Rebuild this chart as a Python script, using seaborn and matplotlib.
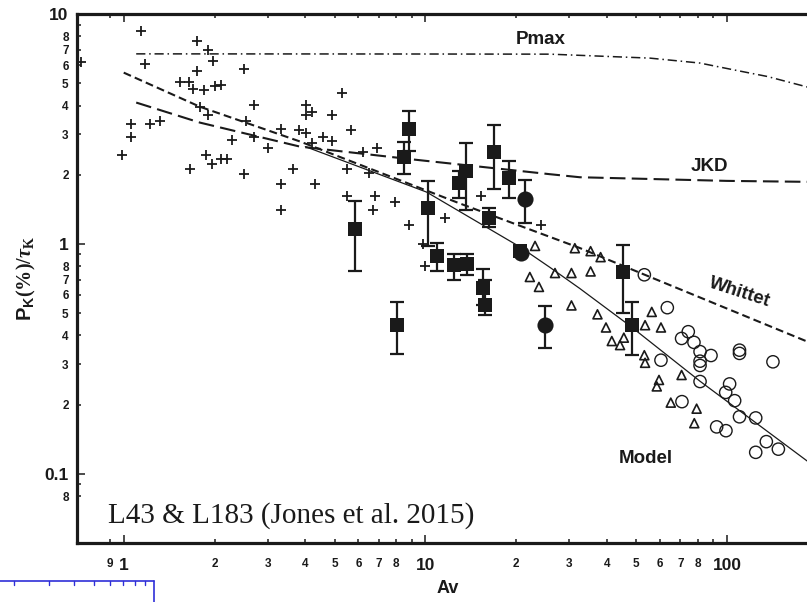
import matplotlib.pyplot as plt
import numpy as np
import seaborn as sns
import pandas as pd
from matplotlib.lines import Line2D
from matplotlib.ticker import FixedLocator, FixedFormatter

sns.set_theme(style="ticks")
plt.rcParams['font.family'] = ['Liberation Sans', 'DejaVu Sans']
plt.rcParams['font.weight'] = 'bold'
plt.rcParams['text.color'] = 'k'
plt.rcParams['axes.labelcolor'] = 'k'
plt.rcParams['xtick.color'] = 'k'
plt.rcParams['ytick.color'] = 'k'
plt.rcParams['mathtext.fontset'] = 'custom'
plt.rcParams['mathtext.bf'] = 'Liberation Sans:bold'
plt.rcParams['mathtext.rm'] = 'Liberation Serif'
plt.rcParams['mathtext.it'] = 'Liberation Serif:italic'

# optical / NIR polarisation points (plus signs)
plus_av = [1.145, 0.72, 1.18, 1.06, 1.06, 0.99, 1.22, 1.32, 1.75, 1.91, 1.98, 1.75, 1.54, 1.64,
           1.70, 1.85, 2.00, 2.10, 1.79, 1.91, 1.66, 1.87, 1.96, 2.10, 2.20, 2.28, 2.51, 2.70,
           2.55, 2.70, 2.51, 3.00, 3.32, 3.32, 3.32, 3.64, 3.81, 5.30, 4.01, 4.01, 4.21, 4.90,
           4.01, 5.69, 4.58, 4.90, 4.21, 6.91, 6.22, 5.49, 6.49, 4.30, 5.49, 6.81, 6.71, 7.92,
           11.6, 8.80, 15.3, 24.1, 9.8, 10.0]
plus_p = [8.47, 6.16, 6.06, 3.33, 2.93, 2.43, 3.33, 3.42, 7.66, 6.99, 6.26, 5.65, 5.04, 5.04,
          4.72, 4.66, 4.85, 4.93, 3.95, 3.63, 2.11, 2.43, 2.23, 2.33, 2.33, 2.83, 5.76, 4.03,
          3.42, 2.93, 2.02, 2.61, 3.15, 1.82, 1.41, 2.11, 3.12, 4.54, 4.03, 3.63, 3.74, 3.63,
          3.04, 3.12, 2.93, 2.80, 2.74, 2.61, 2.52, 2.11, 2.03, 1.82, 1.61, 1.61, 1.41, 1.52,
          1.30, 1.21, 1.61, 1.21, 1.0, 0.805]

# filled squares with error bars
sq_av = [8.84, 8.49, 5.85, 10.2, 10.9, 12.4, 13.7, 15.5, 15.8, 13.6, 12.9, 16.9, 18.9, 16.2,
         20.6, 45.1, 48.3, 8.03]
sq_p = [3.17, 2.40, 1.16, 1.43, 0.89, 0.81, 0.82, 0.64, 0.54, 2.08, 1.84, 2.52, 1.94, 1.30,
        0.93, 0.754, 0.446, 0.446]
sq_lo = [2.53, 2.01, 0.766, 0.983, 0.766, 0.70, 0.73, 0.545, 0.493, 1.41, 1.58, 1.73, 1.59,
         1.18, 0.89, 0.503, 0.328, 0.332]
sq_hi = [3.80, 2.77, 1.53, 1.87, 1.01, 0.905, 0.905, 0.774, 0.70, 2.76, 2.08, 3.29, 2.29,
         1.44, 0.97, 0.99, 0.56, 0.56]

# filled circles with error bars
fc_av = [21.4, 25.0, 20.8]
fc_p = [1.57, 0.446, 0.914]
fc_lo = [1.23, 0.354, 0.914]
fc_hi = [1.89, 0.537, 0.914]

# open triangles
tri_av = [23.1, 31.3, 22.2, 23.8, 26.9, 30.5, 30.5, 35.3, 38.1, 35.3, 37.2, 39.7, 45.5, 41.5,
          44.2, 56.3, 53.5, 60.4, 53.2, 53.5, 70.7, 59.5, 58.5, 65.1, 79.3, 77.9]
tri_p = [0.98, 0.958, 0.718, 0.65, 0.747, 0.747, 0.54, 0.93, 0.876, 0.759, 0.494, 0.433, 0.391,
         0.378, 0.363, 0.506, 0.443, 0.433, 0.328, 0.304, 0.269, 0.256, 0.24, 0.204, 0.192, 0.166]

# open circles
oc_av = [53.2, 63.4, 74.4, 70.7, 77.7, 81.4, 81.4, 81.4, 88.5, 110, 110, 142, 60.4, 81.4, 102,
         99, 106, 70.9, 110, 124.5, 92.4, 99.2, 135, 124.5, 148]
oc_p = [0.734, 0.528, 0.415, 0.388, 0.373, 0.34, 0.309, 0.296, 0.327, 0.345, 0.334, 0.307,
        0.312, 0.252, 0.246, 0.226, 0.208, 0.206, 0.177, 0.175, 0.16, 0.154, 0.138, 0.124, 0.128]

# model curves
pmax_av = [1.10, 10, 25.9, 55.5, 81.3, 105, 136, 184, 200]
pmax_p = [6.71, 6.70, 6.69, 6.43, 6.12, 5.72, 5.35, 4.82, 4.65]
whittet_av = [1.0, 1.79, 3.84, 13.0, 32.5, 52.6, 200]
whittet_p = [5.56, 3.95, 2.79, 1.50, 0.96, 0.74, 0.36]
jkd_av = [1.10, 1.79, 3.84, 9.1, 25.9, 32.5, 100, 200]
jkd_p = [4.12, 3.37, 2.65, 2.33, 2.01, 1.95, 1.88, 1.86]
model_av = [4.0, 10.1, 20.6, 25.9, 32.5, 47.7, 81.3, 200]
model_p = [2.65, 1.68, 0.97, 0.79, 0.64, 0.44, 0.253, 0.105]

# ticks
x_major = [1, 10, 100]
x_major_labels = ['1', '10', '100']
x_minor = [0.9, 2, 3, 4, 5, 6, 7, 8, 9, 20, 30, 40, 50, 60, 70, 80, 90]
x_minor_labels = ['9', '2', '3', '4', '5', '6', '7', '8', '', '2', '3', '4', '5', '6', '7', '8', '']
y_major = [0.1, 1, 10]
y_major_labels = ['0.1', '1', '10']
y_minor = [0.08, 0.09, 0.2, 0.3, 0.4, 0.5, 0.6, 0.7, 0.8, 0.9, 2, 3, 4, 5, 6, 7, 8, 9]
y_minor_labels = ['8', '', '2', '3', '4', '5', '6', '7', '8', '', '2', '3', '4', '5', '6', '7', '8', '']

fig = plt.figure(figsize=(8.07, 6.02), dpi=100)
ax = fig.add_axes([0.0954, 0.098, 0.918, 0.8787])
ax.set_xscale('log')
ax.set_yscale('log')

# curves
sns.lineplot(x=pmax_av, y=pmax_p, ax=ax, color='k', lw=1.1, linestyle=(0, (6, 2.5, 1, 2.5)),
             sort=False, estimator=None)
sns.lineplot(x=whittet_av, y=whittet_p, ax=ax, color='k', lw=1.5, linestyle=(0, (3.8, 2)),
             sort=False, estimator=None)
sns.lineplot(x=jkd_av, y=jkd_p, ax=ax, color='k', lw=1.5, linestyle=(0, (7.5, 3)),
             sort=False, estimator=None)
sns.lineplot(x=model_av, y=model_p, ax=ax, color='k', lw=0.9, sort=False, estimator=None)

# points
sns.scatterplot(x=plus_av, y=plus_p, ax=ax, marker='+', s=50, color='k', linewidth=1.3,
                legend=False, zorder=3)
sns.scatterplot(x=tri_av, y=tri_p, ax=ax, marker='^', s=42, facecolor='none', edgecolor='k',
                linewidth=1.2, legend=False, zorder=3)
sns.scatterplot(x=oc_av, y=oc_p, ax=ax, marker='o', s=78, facecolor='none', edgecolor='k',
                linewidth=1.0, legend=False, zorder=3)

sq_av_a, sq_p_a = np.array(sq_av), np.array(sq_p)
ax.errorbar(sq_av_a, sq_p_a, yerr=[sq_p_a - np.array(sq_lo), np.array(sq_hi) - sq_p_a],
            fmt='none', ecolor='k', elinewidth=1.6, capsize=5, capthick=1.6, zorder=4)
fc_av_a, fc_p_a = np.array(fc_av), np.array(fc_p)
ax.errorbar(fc_av_a, fc_p_a, yerr=[fc_p_a - np.array(fc_lo), np.array(fc_hi) - fc_p_a],
            fmt='none', ecolor='k', elinewidth=1.6, capsize=5, capthick=1.6, zorder=4)
sns.scatterplot(x=sq_av, y=sq_p, ax=ax, marker='s', s=100, color='k', linewidth=0,
                legend=False, zorder=5)
sns.scatterplot(x=fc_av, y=fc_p, ax=ax, marker='o', s=135, color='k', linewidth=0,
                legend=False, zorder=5)

ax.set_xlim(0.7, 200)
ax.set_ylim(0.05, 10)

ax.xaxis.set_major_locator(FixedLocator(x_major))
ax.xaxis.set_major_formatter(FixedFormatter(x_major_labels))
ax.xaxis.set_minor_locator(FixedLocator(x_minor))
ax.xaxis.set_minor_formatter(FixedFormatter(x_minor_labels))
ax.yaxis.set_major_locator(FixedLocator(y_major))
ax.yaxis.set_major_formatter(FixedFormatter(y_major_labels))
ax.yaxis.set_minor_locator(FixedLocator(y_minor))
ax.yaxis.set_minor_formatter(FixedFormatter(y_minor_labels))

ax.tick_params(axis='both', which='both', direction='in', top=True, right=False, colors='k',
               width=1.1)
ax.tick_params(axis='both', which='major', length=6, labelsize=12.5)
ax.tick_params(axis='both', which='minor', length=3, labelsize=8.5)
ax.tick_params(axis='x', which='both', pad=11)
ax.tick_params(axis='y', which='both', pad=6)

for side in ['left', 'bottom', 'top']:
    ax.spines[side].set_linewidth(2.3)
    ax.spines[side].set_color('k')
ax.spines['right'].set_visible(False)

ax.set_xlabel('Av', fontsize=13, fontweight='bold', labelpad=5)
ax.set_ylabel(r'$\mathbf{P}_{\mathbf{K}}\mathit{(\%)/\tau}_{\mathrm{K}}$', fontsize=14.5)
ax.yaxis.set_label_coords(-0.052, 0.5)

# curve names
ax.text(24.2, 7.72, 'Pmax', fontsize=13.5, fontweight='bold', ha='center', va='center')
ax.text(87.1, 2.18, 'JKD', fontsize=13.5, fontweight='bold', ha='center', va='center')
ax.text(110, 0.614, 'Whittet', fontsize=13.5, fontweight='bold', ha='center', va='center',
        rotation=-18)
ax.text(53.7, 0.117, 'Model', fontsize=13.5, fontweight='bold', ha='center', va='center')
ax.text(0.042, 0.038, 'L43 & L183 (Jones et al. 2015)', transform=ax.transAxes,
        family='Liberation Serif', fontweight='normal', fontsize=21, va='baseline')

# stray blue frame at the bottom left
blue = '#2f2fd8'
yb = 1 - 581 / 602
fig.add_artist(Line2D([0, 154 / 807], [yb, yb], transform=fig.transFigure, color=blue, lw=1.2))
fig.add_artist(Line2D([154 / 807, 154 / 807], [yb, 0], transform=fig.transFigure, color=blue, lw=1.2))
for n in range(2, 10):
    xb = (-46 + 200 * np.log10(n)) / 807
    fig.add_artist(Line2D([xb, xb], [yb, yb - 4 / 602], transform=fig.transFigure, color=blue, lw=1))

fig.savefig('out.png', dpi=100)
